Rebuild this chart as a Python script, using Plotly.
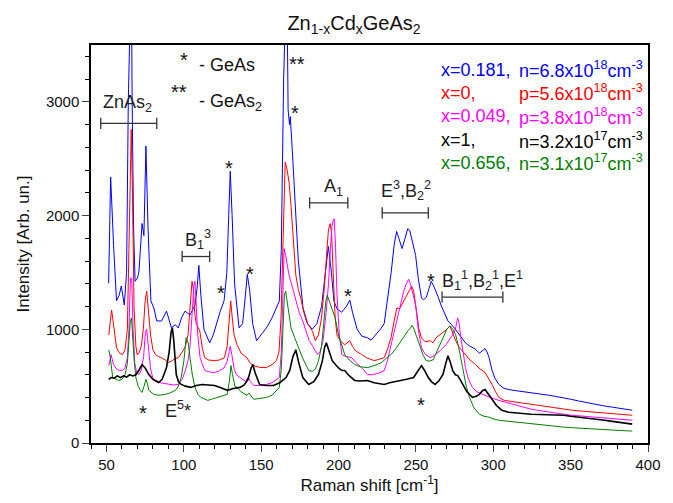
import plotly.graph_objects as go

# ---------------- data ----------------
blue_x = [51.4, 52.7, 54.6, 56.5, 58.2, 59.6, 61.5, 63.0, 64.1, 65.0, 66.0, 66.6, 67.5, 68.5, 70.0, 71.0,
          73.0, 74.2, 75.5, 76.8, 78.7, 80.6, 82.5, 85.6, 88.8, 92.0, 94.5, 96.4, 98.5, 100.8, 104.0, 107.2,
          108.5, 109.7, 111.0, 113.0, 116.7, 119.0, 121.0, 123.6, 126.0, 127.8, 129.0, 130.0, 131.2, 132.8,
          135.7, 138.0, 139.8, 141.0, 142.5, 144.5, 147.0, 150.0, 153.4, 157.0, 159.5, 161.7, 163.0, 164.5,
          166.5, 167.4, 168.3, 168.8, 170.0, 172.0, 174.0, 177.0, 180.0, 183.0, 186.0, 189.0, 191.0, 193.4,
          195.0, 197.0, 199.0, 202.0, 205.0, 207.3, 209.0, 212.0, 215.0, 218.7, 221.0, 224.0, 227.0, 229.5,
          232.0, 234.0, 236.0, 237.5, 239.0, 241.0, 243.0, 244.7, 246.0, 248.0, 249.8, 251.5, 253.6, 255.0,
          256.7, 258.5, 259.9, 261.5, 263.0, 264.5, 266.2, 268.0, 270.7, 273.8, 276.0, 279.0, 282.0, 285.0,
          288.0, 291.0, 294.7, 296.0, 297.3, 299.0, 301.0, 303.6, 307.0, 312.0, 318.0, 324.5, 330.0, 336.0,
          340.0, 345.4, 350.0, 355.0, 360.0, 367.0, 372.0, 377.0, 382.0, 386.0, 389.8]
blue_y = [1405, 2340, 1737, 1250, 1300, 1380, 1213, 1500, 3000, 4200, 4200, 3000, 1900, 1422, 1450, 1510,
          1930, 1824, 2610, 1911, 1250, 1187, 1073, 1073, 1160, 1012, 1040, 1012, 1100, 1160, 1125, 1213,
          1350, 1562, 1300, 1000, 881, 950, 1050, 1160, 1250, 1500, 2000, 2390, 2000, 1400,
          1012, 1050, 1300, 1483, 1350, 1050, 900, 950, 1012, 1100, 1180, 1248, 1700, 3200,
          4200, 2930, 2800, 2870, 2600, 2100, 1600, 1190, 1050, 1000, 1050, 1200, 1450, 1728,
          1550, 1250, 1180, 1150, 1200, 1256, 1150, 1000, 940, 925, 905, 950, 1000, 1050,
          1300, 1500, 1750, 1860, 1800, 1710, 1800, 1885, 1870, 1760, 1650, 1450, 1274, 1260,
          1280, 1360, 1422, 1380, 1335, 1280, 1213, 1150, 1073, 1030, 990, 930, 881, 850,
          830, 790, 830, 800, 750, 650, 570, 515, 480, 465, 455, 445, 430, 420,
          410, 400, 385, 370, 355, 340, 325, 315, 305, 295, 288]

red_x = [51.5, 52.5, 53.3, 54.5, 56.5, 58.5, 60.3, 62.0, 63.5, 64.5, 65.3, 66.0, 66.8, 67.8, 69.0, 69.8,
         71.0, 72.5, 73.8, 75.0, 76.0, 77.0, 78.5, 80.0, 81.8, 83.5, 85.6, 88.0, 90.0, 92.0, 94.0, 96.4,
         99.0, 101.0, 102.7, 103.8, 104.6, 105.3, 106.2, 107.0, 108.0, 110.3, 112.0, 113.5, 116.0, 119.8,
         123.0, 126.2, 128.0, 129.3, 130.3, 131.3, 132.5, 134.4, 137.0, 140.8, 143.0, 145.2, 149.0, 153.4,
         157.0, 159.8, 161.5, 162.8, 163.8, 164.7, 165.5, 166.5, 168.0, 169.2, 170.5, 172.4, 174.0, 175.6,
         177.5, 179.5, 181.5, 183.2, 185.0, 187.0, 189.0, 191.0, 192.5, 193.5, 194.6, 195.5, 196.5, 197.8,
         199.0, 201.0, 204.0, 205.8, 207.3, 209.0, 211.0, 214.9, 218.0, 223.1, 226.0, 229.5, 231.5, 233.9,
         236.0, 237.7, 239.5, 241.0, 242.5, 244.0, 245.5, 247.2, 248.5, 250.4, 252.0, 253.6, 256.0, 259.3,
         261.0, 263.0, 265.0, 267.5, 270.0, 272.0, 274.0, 275.7, 278.0, 282.0, 285.0, 288.4, 291.5, 294.7,
         297.0, 299.2, 301.5, 303.6, 307.0, 312.0, 318.0, 324.5, 330.0, 336.0, 340.0, 345.4, 350.0, 355.0,
         360.0, 367.0, 372.0, 377.0, 382.0, 386.0, 389.8]
red_y = [950, 1100, 1170, 1050, 838, 790, 777, 820, 1000, 1700, 2500, 2757, 2200, 1200, 850, 777,
         790, 850, 1000, 1250, 1335, 1200, 950, 820, 777, 760, 750, 730, 707, 720, 740, 750,
         800, 850, 951, 1150, 1335, 1422, 1350, 1150, 1050, 986, 830, 750, 730, 724,
         730, 750, 850, 1100, 1250, 1100, 950, 864, 790, 750, 700, 680, 665, 663,
         690, 724, 800, 1100, 1600, 2200, 2470, 2420, 2295, 2100, 1860, 1475, 1350, 1274,
         1150, 1060, 1020, 980, 900, 950, 1100, 1400, 1700, 1880, 1928, 1850, 1500, 1100,
         950, 900, 864, 880, 900, 850, 810, 777, 750, 724, 735, 750, 820, 925,
         1080, 1187, 1180, 1220, 1250, 1300, 1330, 1379, 1340, 1160, 1000, 925, 890, 900,
         880, 925, 945, 969, 1000, 1030, 960, 900, 840, 777, 730, 690, 650, 620,
         570, 515, 450, 401, 375, 365, 350, 340, 325, 315, 305, 297, 290, 283,
         278, 270, 262, 256, 250, 247, 244]

mag_x = [51.5, 53.0, 54.5, 56.5, 58.4, 60.5, 62.0, 63.5, 64.5, 65.5, 66.3, 67.2, 68.3, 69.5, 71.0, 72.5,
         74.0, 75.2, 76.0, 77.0, 78.5, 80.0, 81.8, 85.0, 88.0, 90.0, 93.0, 96.4, 99.0, 101.0, 102.7, 104.0,
         105.5, 106.5, 107.2, 108.0, 109.0, 110.5, 113.5, 116.5, 119.8, 123.0, 126.2, 128.0, 129.3, 130.0,
         131.0, 132.5, 134.0, 136.3, 140.0, 141.5, 143.0, 145.2, 149.0, 153.4, 157.0, 161.7, 163.0, 164.0,
         164.8, 165.8, 167.0, 168.0, 170.0, 172.4, 174.5, 176.9, 179.0, 181.0, 183.2, 186.4, 188.0, 190.0,
         192.0, 193.5, 194.7, 195.7, 196.5, 197.2, 198.0, 199.0, 200.5, 202.2, 205.0, 208.6, 211.0, 214.9,
         218.7, 222.0, 226.0, 229.5, 231.5, 233.9, 235.8, 237.7, 240.0, 242.1, 243.8, 245.3, 246.5, 248.0,
         249.8, 251.5, 253.6, 256.0, 259.3, 262.0, 265.6, 269.4, 272.0, 273.8, 275.5, 277.0, 278.0, 279.0,
         280.5, 282.0, 284.0, 286.5, 289.5, 292.9, 298.0, 303.6, 310.0, 317.0, 324.5, 330.0, 336.0, 340.0,
         345.4, 350.0, 355.0, 360.0, 367.0, 372.0, 377.0, 382.0, 386.0, 389.8]
mag_y = [680, 777, 690, 650, 637, 640, 660, 750, 1000, 1450, 1450, 1000, 700, 620, 602, 640,
         760, 980, 1000, 850, 650, 570, 550, 530, 520, 515, 510, 515, 560, 640, 724, 850,
         1150, 1380, 1422, 1250, 950, 750, 637, 625, 620, 635, 663, 720, 800, 850,
         780, 650, 600, 576, 540, 580, 540, 506, 505, 515, 530, 576, 800, 1300,
         1710, 1650, 1550, 1475, 1380, 1248, 1150, 1073, 980, 900, 855, 777, 800, 900,
         1150, 1400, 1700, 1900, 1960, 1972, 1750, 1300, 950, 777, 760, 750, 710, 663,
         602, 600, 615, 637, 720, 864, 980, 1100, 1230, 1335, 1400, 1440, 1400, 1320,
         1213, 1000, 838, 780, 750, 770, 811, 864, 920, 951, 1000, 1100, 1050, 925,
         800, 663, 560, 489, 450, 428, 400, 375, 350, 320, 297, 285, 270, 262,
         253, 245, 240, 235, 227, 220, 213, 207, 204, 200]

green_x = [51.5, 52.5, 54.0, 56.0, 58.0, 60.0, 62.0, 63.5, 64.5, 65.5, 66.2, 67.0, 67.9, 69.0, 70.5, 72.0,
           73.0, 74.3, 75.5, 76.5, 77.4, 80.6, 84.0, 88.0, 91.0, 94.5, 96.5, 98.3, 100.0, 101.5, 102.8, 104.0,
           105.5, 107.2, 109.0, 111.0, 115.4, 118.0, 121.8, 125.0, 128.1, 129.5, 130.5, 131.5, 133.0, 134.4,
           137.0, 140.8, 142.0, 145.2, 149.0, 153.4, 157.0, 161.7, 163.0, 164.0, 165.0, 165.8, 166.8, 168.0,
           169.3, 171.5, 174.3, 177.0, 180.7, 183.0, 185.0, 187.0, 189.0, 190.5, 191.8, 192.7, 194.0, 195.5,
           197.8, 200.0, 202.2, 204.0, 207.0, 210.5, 214.0, 218.7, 223.0, 227.6, 230.5, 233.9, 237.0, 240.3,
           243.0, 245.0, 246.6, 247.5, 248.5, 250.5, 252.9, 254.7, 256.7, 259.0, 261.2, 264.0, 267.5, 270.0,
           272.0, 273.8, 275.7, 277.5, 280.2, 282.5, 284.6, 287.5, 291.0, 294.0, 297.3, 300.0, 303.6, 310.0,
           317.0, 324.5, 330.0, 336.0, 340.0, 345.4, 350.0, 355.0, 360.0, 367.0, 372.0, 377.0, 382.0, 386.0,
           389.8]
green_y = [820, 750, 576, 560, 550, 560, 600, 700, 900, 1080, 1100, 900, 724, 576, 500, 460,
           445, 500, 560, 520, 463, 428, 420, 428, 440, 463, 500, 576, 720, 925, 880, 750,
           600, 489, 430, 401, 375, 385, 401, 410, 428, 550, 680, 600, 500, 489,
           450, 419, 440, 384, 390, 401, 420, 489, 650, 1000, 1300, 1335, 1250, 1120,
           1012, 930, 838, 740, 637, 630, 650, 720, 850, 1050, 1250, 1300, 1250, 1180,
           1100, 950, 864, 777, 730, 690, 670, 663, 680, 706, 740, 777, 830, 900,
           950, 990, 1012, 1035, 1012, 930, 838, 770, 724, 720, 733, 820, 925, 1000,
           1030, 1000, 951, 850, 663, 500, 401, 310, 253, 235, 227, 212, 200, 190,
           178, 166, 158, 150, 146, 140, 135, 130, 126, 122, 118, 114, 110, 107,
           105]

black_x = [51.5, 53.0, 55.0, 57.0, 59.0, 61.0, 63.0, 65.0, 67.0, 69.0, 71.0, 73.0, 75.0, 77.4, 80.0, 83.7,
           86.0, 88.8, 90.5, 91.8, 92.6, 93.5, 95.1, 96.5, 98.3, 101.0, 104.6, 108.0, 112.0, 116.0, 119.8,
           124.0, 128.1, 132.0, 136.3, 139.0, 141.5, 143.5, 144.6, 146.0, 149.0, 153.0, 157.9, 162.0, 166.1,
           168.5, 170.5, 172.4, 174.0, 176.9, 180.7, 184.0, 187.0, 189.5, 191.0, 192.1, 193.5, 195.9, 198.0,
           200.0, 202.2, 204.0, 207.0, 210.5, 214.0, 218.7, 223.0, 226.0, 229.5, 233.0, 237.0, 240.3, 244.0,
           248.5, 251.0, 253.6, 255.5, 258.0, 260.0, 262.4, 265.0, 267.5, 269.3, 270.7, 272.0, 273.8, 275.5,
           277.0, 278.5, 280.2, 283.0, 286.5, 289.0, 291.0, 293.0, 294.7, 296.5, 299.2, 302.0, 305.5, 310.0,
           316.0, 324.5, 330.0, 336.0, 340.0, 345.4, 350.0, 355.0, 360.0, 367.0, 372.0, 377.0, 382.0, 386.0,
           389.8]
black_y = [560, 576, 570, 590, 575, 590, 580, 600, 590, 600, 640, 690, 660, 602, 560, 532,
           560, 663, 800, 980, 1012, 900, 602, 540, 515, 500, 489, 505, 515, 510, 506,
           485, 463, 480, 489, 510, 560, 660, 690, 620, 515, 505, 506, 530, 576,
           640, 760, 820, 720, 576, 515, 540, 602, 720, 840, 881, 820, 724, 690,
           660, 637, 637, 590, 550, 545, 550, 530, 520, 515, 530, 540, 550, 560,
           576, 630, 680, 640, 576, 540, 515, 550, 602, 700, 768, 720, 637, 600,
           593, 560, 515, 450, 401, 410, 428, 460, 471, 440, 384, 330, 288, 270,
           262, 253, 250, 248, 246, 244, 235, 228, 220, 210, 200, 190, 180, 172,
           166]

series = [
    ("x=0.181", "n=6.8x10<sup>18</sup>cm<sup>-3</sup>", blue_x, blue_y, "#0000FF", 1.0),
    ("x=0,", "p=5.6x10<sup>18</sup>cm<sup>-3</sup>", red_x, red_y, "#FF0000", 1.0),
    ("x=0.049,", "p=3.8x10<sup>18</sup>cm<sup>-3</sup>", mag_x, mag_y, "#FF00FF", 1.0),
    ("x=0.656,", "n=3.1x10<sup>17</sup>cm<sup>-3</sup>", green_x, green_y, "#008000", 1.0),
    ("x=1,", "n=3.2x10<sup>17</sup>cm<sup>-3</sup>", black_x, black_y, "#000000", 1.6),
]
legend_order = [0, 1, 2, 4, 3]
legend_first = ["x=0.181,", "x=0,", "x=0.049,", "x=1,", "x=0.656,"]

# mode brackets: label, x-start, x-end, bracket level, label x, label y
bracket_labels = ["ZnAs<sub>2</sub>", "B<sub>1</sub><sup>3</sup>", "A<sub>1</sub>",
                  "E<sup>3</sup>,B<sub>2</sub><sup>2</sup>",
                  "B<sub>1</sub><sup>1</sup>,B<sub>2</sub><sup>1</sup>,E<sup>1</sup>"]
bracket_x0 = [46.3, 98.9, 181.3, 228.2, 266.9]
bracket_x1 = [82.5, 116.7, 206.0, 258.0, 306.2]
bracket_y = [2810, 1640, 2112, 2024, 1283]
label_x = [63.4, 109.0, 196.5, 243.4, 292.8]
label_y = [2985, 1790, 2250, 2220, 1430]

# asterisk markers (GeAs / GeAs2)
star_text = ["*", "*", "*", "*", "**", "*", "*", "*", "*"]
star_x = [129.4, 142.7, 124.3, 171.8, 173.0, 206.0, 259.9, 73.6, 253.6]
star_y = [2470, 1536, 1370, 2958, 3386, 1344, 1475, 314, 384]

FONT = "Arial, Liberation Sans, sans-serif"

fig = go.Figure()
for first, second, xs, ys, col, w in series:
    fig.add_trace(go.Scatter(x=xs, y=ys, mode="lines", line=dict(color=col, width=w),
                             showlegend=False, hoverinfo="skip"))

for x0, x1, yb in zip(bracket_x0, bracket_x1, bracket_y):
    fig.add_trace(go.Scatter(x=[x0, x1], y=[yb, yb], mode="lines+markers",
                             line=dict(color="#333333", width=1.3),
                             marker=dict(symbol="line-ns-open", size=8,
                                         line=dict(color="#333333", width=1.3)),
                             showlegend=False, hoverinfo="skip"))

ann = []
for t, x, y in zip(bracket_labels, label_x, label_y):
    ann.append(dict(x=x, y=y, xref="x", yref="y", text=t, showarrow=False,
                    font=dict(family=FONT, size=18, color="#222222")))
for t, x, y in zip(star_text, star_x, star_y):
    ann.append(dict(x=x, y=y, xref="x", yref="y", text=t, showarrow=False,
                    font=dict(family=FONT, size=20, color="#111111"), yshift=-6))
# E5* label
ann.append(dict(x=96.4, y=297, xref="x", yref="y", text="E<sup>5</sup>*", showarrow=False,
                font=dict(family=FONT, size=18, color="#222222")))
# GeAs key
ann.append(dict(x=100.2, y=3420, xref="x", yref="y", text="*", showarrow=False,
                font=dict(family=FONT, size=20, color="#111111"), yshift=-6))
ann.append(dict(x=108.4, y=3325, xref="x", yref="y", text="- GeAs", showarrow=False,
                xanchor="left", font=dict(family=FONT, size=18, color="#111111")))
ann.append(dict(x=97.0, y=3140, xref="x", yref="y", text="**", showarrow=False,
                font=dict(family=FONT, size=20, color="#111111"), yshift=-6))
ann.append(dict(x=108.4, y=2990, xref="x", yref="y", text="- GeAs<sub>2</sub>", showarrow=False,
                xanchor="left", font=dict(family=FONT, size=18, color="#111111")))

# legend as text
leg_y = [70, 93, 117, 141, 164]
for row, idx in enumerate(legend_order):
    first, second, xs, ys, col, w = series[idx]
    ann.append(dict(x=446, y=leg_y[row], xref="paper", yref="paper", text=legend_first[row],
                    showarrow=False, xanchor="left", yanchor="middle",
                    font=dict(family=FONT, size=18, color=col)))
    ann.append(dict(x=525, y=leg_y[row], xref="paper", yref="paper", text=second,
                    showarrow=False, xanchor="left", yanchor="middle",
                    font=dict(family=FONT, size=18, color=col)))

# convert legend pixel positions to paper coords
L, R, T, B = 91, 14, 45, 56
W, H = 673, 503
pw, ph = W - L - R, H - T - B
for a in ann:
    if a["xref"] == "paper":
        a["x"] = (a["x"] - L) / pw
        a["y"] = 1 - (a["y"] - T) / ph

fig.update_layout(
    width=W, height=H,
    margin=dict(l=L, r=R, t=T, b=B),
    paper_bgcolor="white", plot_bgcolor="white",
    font=dict(family=FONT, size=15, color="#111111"),
    title=dict(text="Zn<sub>1-x</sub>Cd<sub>x</sub>GeAs<sub>2</sub>", x=0.526, xref="container",
               y=0.955, yref="container", xanchor="center", yanchor="middle",
               font=dict(family=FONT, size=20, color="#111111")),
    annotations=ann,
    showlegend=False,
)
fig.update_xaxes(range=[40, 400], tick0=0, dtick=50, ticks="outside", ticklen=7, tickwidth=1.3,
                 showline=True, linewidth=1.5, linecolor="black", mirror=True, showgrid=False,
                 zeroline=False, tickfont=dict(family=FONT, size=15),
                 minor=dict(dtick=10, ticks="outside", ticklen=4, tickwidth=1.2, tickcolor="black"),
                 title=dict(text="Raman shift [cm<sup>-1</sup>]", font=dict(family=FONT, size=17),
                            standoff=6))
fig.update_yaxes(range=[0, 3500], tick0=0, dtick=1000, ticks="outside", ticklen=7, tickwidth=1.3,
                 showline=True, linewidth=1.5, linecolor="black", mirror=True, showgrid=False,
                 zeroline=False, tickfont=dict(family=FONT, size=15),
                 minor=dict(dtick=200, ticks="outside", ticklen=4, tickwidth=1.2, tickcolor="black"),
                 title=dict(text="Intensity [Arb. un.]", font=dict(family=FONT, size=17),
                            standoff=12))

fig.write_html("out.html")
